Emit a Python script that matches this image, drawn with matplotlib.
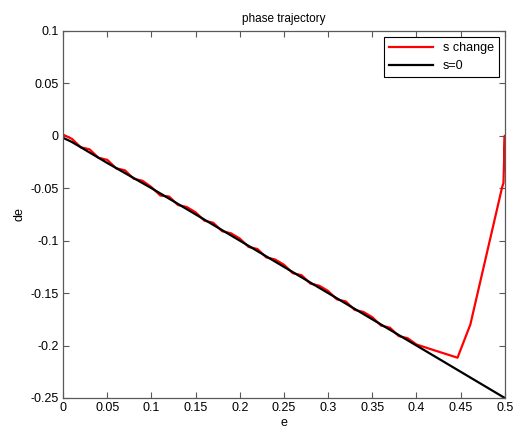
import numpy as np
import matplotlib.pyplot as plt

plt.rcParams['font.family'] = ['Liberation Sans', 'DejaVu Sans']

# s change trajectory (red)
e_red = [0.000, 0.010, 0.020, 0.030, 0.040, 0.050, 0.060, 0.070, 0.080, 0.090,
         0.100, 0.110, 0.120, 0.130, 0.140, 0.150, 0.160, 0.170, 0.180, 0.190,
         0.200, 0.210, 0.220, 0.230, 0.240, 0.250, 0.260, 0.270, 0.280, 0.290,
         0.300, 0.310, 0.320, 0.330, 0.340, 0.350, 0.360, 0.370, 0.380, 0.390,
         0.400, 0.420, 0.4465, 0.461, 0.497, 0.4985, 0.5, 0.5]
de_red = [0.001, -0.003, -0.011, -0.013, -0.021, -0.023, -0.031, -0.033, -0.041, -0.043,
          -0.049, -0.057, -0.058, -0.066, -0.068, -0.073, -0.081, -0.083, -0.091, -0.093,
          -0.098, -0.106, -0.108, -0.116, -0.118, -0.123, -0.131, -0.133, -0.141, -0.143,
          -0.148, -0.156, -0.158, -0.166, -0.168, -0.173, -0.181, -0.183, -0.191, -0.193,
          -0.199, -0.2045, -0.2116, -0.180, -0.049, -0.045, 0.0, -0.02]

# s = 0 trajectory (black)
e_blk = [0.0, 0.01, 0.02, 0.03, 0.04, 0.05, 0.1, 0.2, 0.3, 0.4, 0.45, 0.5]
de_blk = [-0.002, -0.006, -0.011, -0.016, -0.021, -0.026, -0.050, -0.100, -0.150, -0.200, -0.225, -0.250]

xticks = [0, 0.05, 0.1, 0.15, 0.2, 0.25, 0.3, 0.35, 0.4, 0.45, 0.5]
xticklabels = ['0', '0.05', '0.1', '0.15', '0.2', '0.25', '0.3', '0.35', '0.4', '0.45', '0.5']
yticks = [0.1, 0.05, 0, -0.05, -0.1, -0.15, -0.2, -0.25]
yticklabels = ['0.1', '0.05', '0', '-0.05', '-0.1', '-0.15', '-0.2', '-0.25']

fig = plt.figure(figsize=(5.13, 4.34), dpi=100)
ax = fig.add_axes([0.123, 0.083, 0.861, 0.846])

ax.plot(e_red, de_red, color='red', lw=1.6, label='s change')
ax.plot(e_blk, de_blk, color='black', lw=1.6, label='s=0')

ax.set_xlim(0, 0.5)
ax.set_ylim(-0.25, 0.1)
ax.set_xticks(xticks)
ax.set_xticklabels(xticklabels)
ax.set_yticks(yticks)
ax.set_yticklabels(yticklabels)
ax.tick_params(direction='in', top=True, right=True, length=4, labelsize=9, pad=3,
               color='0.35')
for sp in ax.spines.values():
    sp.set_linewidth(0.9)
    sp.set_color('0.35')

ax.set_title('phase trajectory', fontsize=8.5, pad=6)
ax.set_xlabel('e', fontsize=9, labelpad=2)
ax.set_ylabel('de', fontsize=9, labelpad=4)

leg = ax.legend(loc='upper right', fontsize=9, fancybox=False, framealpha=1,
                edgecolor='black', borderaxespad=0.5, handlelength=3.5)
leg.get_frame().set_linewidth(0.8)

fig.savefig('out.png', dpi=100)
